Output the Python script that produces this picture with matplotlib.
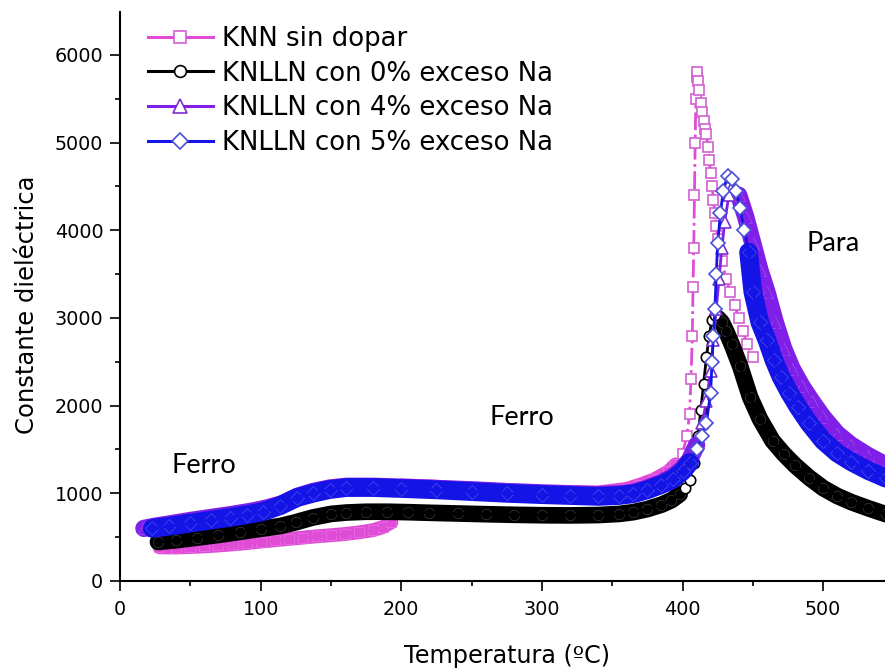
import numpy as np
import matplotlib
matplotlib.use("Agg")
import matplotlib.pyplot as plt
from matplotlib.lines import Line2D
from matplotlib.ticker import MultipleLocator

# KNN sin dopar (two runs, gap after ~193 C)
t_knn = [28, 40, 50, 60, 70, 80, 90, 100, 110, 120, 130, 140, 150, 160, 170,
         180, 187, 193, np.nan,
         200, 220, 250, 280, 310, 340, 360, 370, 380, 390, 395, 400, 403, 405,
         406, 407, 407.5, 408, 408.5, 409, 409.5, 410, 410.5, 411, 412, 413,
         414, 415, 416, 417, 418, 419, 420, 421, 422, 423, 424, 425, 428, 431,
         434, 437, 440, 443, 446, 450]
e_knn = [385, 382, 388, 395, 405, 418, 432, 450, 465, 480, 495, 510, 522, 536,
         555, 580, 615, 670, np.nan,
         1090, 1080, 1050, 1030, 1010, 1010, 1050, 1100, 1160, 1250, 1330, 1450,
         1650, 1900, 2300, 2800, 3350, 3800, 4400, 5000, 5500, 5750, 5800, 5700,
         5600, 5450, 5350, 5250, 5150, 5100, 4950, 4800, 4650, 4500, 4350, 4200,
         4050, 3900, 3650, 3450, 3300, 3150, 3000, 2850, 2700, 2550]

# KNLLN con 0% exceso Na
t_na0 = [27, 40, 55, 70, 85, 100, 114, 125, 137, 150, 161, 175, 190, 205, 220,
         240, 260, 280, 300, 320, 340, 355, 365, 375, 385, 392, 398, 402, 405,
         408, 411, 413, 415, 417, 419, 421, 423, 425, 428, 431, 435, 441, 448,
         455, 464, 472, 480, 490, 500, 510, 520, 532, 545]
e_na0 = [445, 465, 495, 525, 560, 595, 627, 670, 724, 765, 781, 790, 790, 785,
         778, 770, 762, 755, 750, 748, 752, 765, 785, 820, 870, 920, 990, 1060,
         1150, 1350, 1650, 1950, 2250, 2550, 2800, 2980, 3030, 3000, 2950, 2850,
         2700, 2450, 2100, 1850, 1600, 1450, 1320, 1180, 1060, 970, 900, 830, 760]

# KNLLN con 4% exceso Na
t_na4 = [17, 25, 35, 50, 65, 80, 95, 105, 115, 126, 137, 149, 161, 180, 200,
         225, 250, 275, 300, 320, 340, 355, 365, 375, 385, 393, 400, 405, 410,
         414, 417, 420, 422, 424, 426, 428, 430, 433, 436, 440, 445, 450, 455,
         460, 466, 472, 478, 485, 492, 500, 510, 520, 532, 545]
e_na4 = [600, 625, 650, 690, 725, 760, 800, 835, 880, 965, 1020, 1060, 1080,
         1080, 1070, 1055, 1040, 1020, 1005, 995, 985, 995, 1010, 1060, 1120,
         1190, 1280, 1380, 1550, 1800, 2050, 2400, 2750, 3100, 3450, 3800, 4100,
         4400, 4520, 4400, 4150, 3850, 3550, 3300, 2950, 2650, 2420, 2220, 2050,
         1870, 1680, 1550, 1430, 1320]

# KNLLN con 5% exceso Na
t_na5 = [23, 35, 50, 65, 78, 90, 102, 114, 126, 137, 149, 161, 180, 200, 225,
         250, 275, 300, 320, 340, 355, 365, 375, 385, 393, 400, 405, 410, 414,
         417, 420, 421, 422, 423, 424, 425, 427, 429, 432, 435, 438, 441, 444,
         447, 450, 455, 460, 465, 470, 476, 482, 490, 500, 510, 520, 532, 545]
e_na5 = [600, 625, 660, 695, 724, 755, 792, 860, 952, 1000, 1043, 1066, 1066,
         1055, 1040, 1020, 1000, 985, 975, 965, 975, 995, 1040, 1100, 1160, 1250,
         1350, 1500, 1650, 1800, 2150, 2500, 2800, 3100, 3500, 3850, 4200, 4450,
         4620, 4580, 4450, 4250, 4000, 3750, 3300, 2950, 2750, 2520, 2330, 2150,
         1990, 1800, 1600, 1460, 1360, 1260, 1170]

labels = ["KNN sin dopar", "KNLLN con 0% exceso Na",
          "KNLLN con 4% exceso Na", "KNLLN con 5% exceso Na"]

# style per series; "sharp" is the temperature window around the transition
# where the points are sparse and markers are drawn open
series = [
    dict(t=t_knn, e=e_knn, color="#E04CD8", edge="#D260D2", light="#E872E2",
         ls="-.", marker="s", ms=7.5, band=10, sharp=(398, 455)),
    dict(t=t_na0, e=e_na0, color="#000000", edge="#000000", light="#3C3C3C",
         ls="-", marker="o", ms=7.5, band=12, sharp=(400, 424)),
    dict(t=t_na4, e=e_na4, color="#7F1FE8", edge="#7B2FD0", light="#9A55EC",
         ls="-", marker="^", ms=8.5, band=12.5, sharp=(414, 437)),
    dict(t=t_na5, e=e_na5, color="#1414E6", edge="#4A50D8", light="#4A50EA",
         ls="-", marker="D", ms=6.8, band=13.5, sharp=(410, 446)),
]

fig = plt.figure(figsize=(8.85, 6.71), dpi=100)
ax = fig.add_axes([120 / 885, 90 / 671, 765 / 885, 569 / 671])

handles = []
for i, s in enumerate(series):
    t = np.asarray(s["t"], dtype=float)
    e = np.asarray(s["e"], dtype=float)
    lo, hi = s["sharp"]
    sharp = (t >= lo) & (t <= hi)
    z = 2 + i

    # dense stretches: overlapping markers read as a solid band
    ax.plot(t, np.where(sharp, np.nan, e), color=s["color"], lw=s["band"],
            solid_capstyle="round", solid_joinstyle="round", zorder=z)
    ax.plot(t[~sharp], e[~sharp], ls="none", marker=s["marker"], ms=s["ms"],
            mfc=s["color"], mec=s["light"], mew=0.5, zorder=z)
    # transition: thin line with open markers
    ax.plot(t, e, color=s["color"], ls=s["ls"], lw=2, zorder=z)
    ax.plot(t[sharp], e[sharp], ls="none", marker=s["marker"], ms=s["ms"],
            mfc="white", mec=s["edge"], mew=1.2, zorder=z)

    handles.append(Line2D([], [], color=s["color"], lw=2.2, marker=s["marker"],
                          ms=s["ms"] + 1, mfc="white", mec=s["edge"], mew=1.2))

ax.set_xlim(0, 544)
ax.set_ylim(0, 6490)
ax.xaxis.set_major_locator(MultipleLocator(100))
ax.xaxis.set_minor_locator(MultipleLocator(50))
ax.yaxis.set_major_locator(MultipleLocator(1000))
ax.yaxis.set_minor_locator(MultipleLocator(500))

for side in ["top", "right"]:
    ax.spines[side].set_visible(False)
for side in ["left", "bottom"]:
    ax.spines[side].set_linewidth(1.5)
    ax.spines[side].set_zorder(10)

ax.tick_params(which="major", direction="out", length=7, width=1.2,
               labelsize=13.8, pad=5)
ax.tick_params(axis="x", which="major", pad=7)
ax.tick_params(which="minor", direction="out", length=3.6, width=1.2)

fig.text(507 / 885, 1 - 656 / 671, "Temperatura (ºC)", ha="center", va="center",
         fontsize=17.2)
fig.text(27 / 885, 1 - 305 / 671, "Constante dieléctrica", ha="center",
         va="center", rotation=90, fontsize=17.5)

ax.text(60, 1320, "Ferro", fontsize=19.5, family="Lato", ha="center", va="center")
ax.text(286, 1860, "Ferro", fontsize=19.5, family="Lato", ha="center", va="center")
ax.text(507, 3850, "Para", fontsize=19.5, family="Lato", ha="center", va="center")

ax.legend(handles, labels, loc="upper left", bbox_to_anchor=(148 / 885, 1 - 26 / 671),
          bbox_transform=fig.transFigure, frameon=False, fontsize=18.7,
          borderpad=0, borderaxespad=0, handlelength=2.5, handletextpad=0.33,
          labelspacing=0.33)

fig.savefig("out.png", dpi=100)
